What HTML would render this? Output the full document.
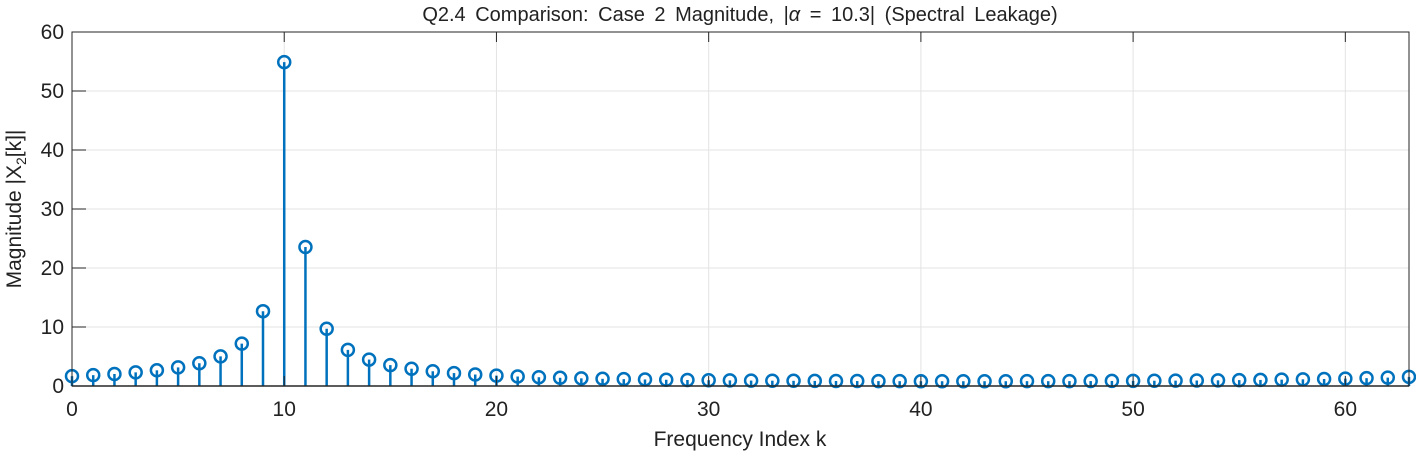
<!DOCTYPE html>
<html><head><meta charset="utf-8"><style>
html,body{margin:0;padding:0;background:#fff;}
svg{display:block;font-family:"Liberation Sans",Arial,sans-serif;}
</style></head><body>
<svg id="chart" width="1416" height="454" viewBox="0 0 1416 454" xmlns="http://www.w3.org/2000/svg">
<g id="grid"></g>
<g id="stems"></g>
<g id="axes"></g>
<text x="740" y="21" text-anchor="middle" font-size="20" fill="#222" word-spacing="4">Q2.4 Comparison: Case 2 Magnitude, |<tspan font-style="italic">α</tspan> = 10.3| (Spectral Leakage)</text>
<text x="740" y="446" text-anchor="middle" font-size="21" fill="#222">Frequency Index k</text>
<text transform="translate(21,209) rotate(-90)" text-anchor="middle" font-size="21" fill="#222">Magnitude |X<tspan font-size="14" dy="5">2</tspan><tspan dy="-5">[k]|</tspan></text>
</svg>
<script>
const magnitudes = [1.67,1.84,2.04,2.31,2.66,3.15,3.86,5.02,7.18,12.68,54.9,23.55,9.71,6.12,4.48,3.54,2.93,2.50,2.19,1.95,1.76,1.61,1.49,1.39,1.30,1.22,1.16,1.11,1.06,1.02,0.98,0.95,0.92,0.90,0.88,0.86,0.85,0.84,0.83,0.82,0.81,0.81,0.81,0.81,0.81,0.82,0.82,0.83,0.84,0.86,0.87,0.89,0.91,0.93,0.96,1.00,1.03,1.08,1.13,1.19,1.25,1.33,1.42,1.54];
const xTicks = [0,10,20,30,40,50,60];
const yTicks = [0,10,20,30,40,50,60];
const xMin=0,xMax=63,yMin=0,yMax=60;
const L=72,R=1409,T=32,B=386;
const sx=v=>L+(v-xMin)/(xMax-xMin)*(R-L);
const sy=v=>B-(v-yMin)/(yMax-yMin)*(B-T);
const NS="http://www.w3.org/2000/svg";
function mk(tag,attrs,parent){const e=document.createElementNS(NS,tag);for(const k in attrs)e.setAttribute(k,attrs[k]);parent.appendChild(e);return e;}
const grid=document.getElementById('grid'),axes=document.getElementById('axes'),stems=document.getElementById('stems');
xTicks.forEach(t=>{
  const g=mk('line',{x1:sx(t),x2:sx(t),y1:T,y2:B,stroke:'#e3e3e3','stroke-width':1},grid);
  
  
  const tk=mk('line',{x1:sx(t),x2:sx(t),y1:B,y2:B-10,stroke:'#262626','stroke-width':1},axes);
  
  
  const tk2=mk('line',{x1:sx(t),x2:sx(t),y1:T,y2:T+10,stroke:'#262626','stroke-width':1},axes);
  
  
  const lb=mk('text',{x:sx(t),y:B+30,'text-anchor':'middle','font-size':21,fill:'#222'},axes);
  lb.textContent=t;
  
  
});
yTicks.forEach(t=>{
  const g=mk('line',{x1:L,x2:R,y1:sy(t),y2:sy(t),stroke:'#e3e3e3','stroke-width':1},grid);
  
  
  const tk=mk('line',{x1:L,x2:L+14,y1:sy(t),y2:sy(t),stroke:'#262626','stroke-width':1},axes);
  
  
  const lb=mk('text',{x:L-8,y:sy(t)+7,'text-anchor':'end','font-size':21,fill:'#222'},axes);
  lb.textContent=t;
  
  
});
const box=mk('rect',{x:L,y:T,width:R-L,height:B-T,fill:'none',stroke:'#262626','stroke-width':1},axes);


const base=mk('line',{x1:L,x2:R,y1:sy(0),y2:sy(0),stroke:'#262626','stroke-width':1.5},axes);


magnitudes.forEach((v,k)=>{
  const ln=mk('line',{x1:sx(k),x2:sx(k),y1:sy(0),y2:sy(v),stroke:'#0072BD','stroke-width':2.5},stems);
  
  
  const c=mk('circle',{cx:sx(k),cy:sy(v),r:6,fill:'none',stroke:'#0072BD','stroke-width':2.5},stems);
  
  
});
</script>
</body></html>
